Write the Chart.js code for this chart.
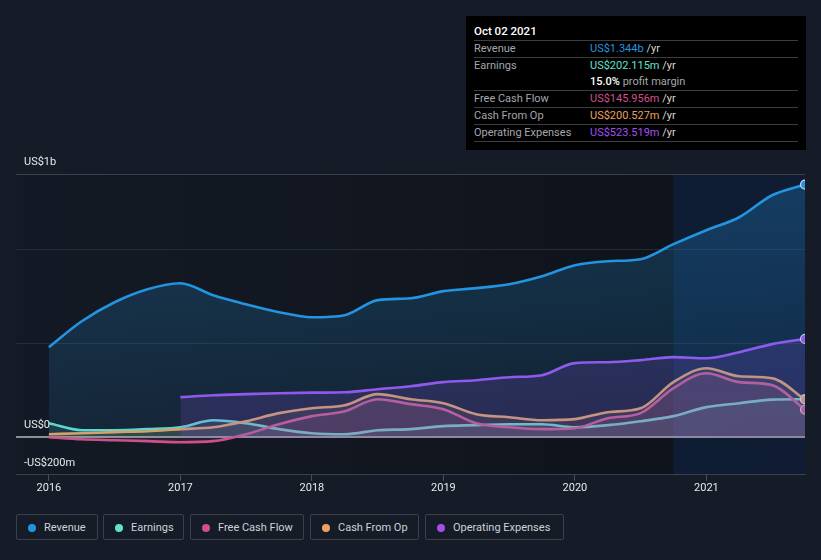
<!DOCTYPE html>
<html>
<head>
<meta charset="utf-8">
<script src="https://cdn.jsdelivr.net/npm/chart.js@4.4.1/dist/chart.umd.min.js"></script>
<style>
  body { margin: 0; background: #151b27; font-family: Roboto, "Noto Sans", sans-serif; }
  #wrap { position: relative; width: 821px; height: 560px; overflow: hidden; }
  #chart { position: absolute; left: 0; top: 0; }
  #tip { position: absolute; left: 466px; top: 16px; width: 340px; height: 134px; background: #000; font-size: 11px; color: #a3a7ae; }
  #tip .title { position: absolute; left: 8px; top: 8px; color: #fff; font-weight: 500; font-size: 11.5px; }
  #tip .row { position: absolute; left: 8px; width: 324px; height: 17px; line-height: 17px; }
  #tip .line { position: absolute; left: 8px; width: 324px; height: 1px; background: #3a3d42; }
  #tip .val { position: absolute; left: 116px; }
  #tip .yr { color: #d8d8d8; }
  .legend { position: absolute; top: 514px; height: 26px; border: 1px solid #3b404b; border-radius: 2px; font-size: 11px; color: #cfd2d6; line-height: 26px; box-sizing: border-box; }
  .legend i { position: absolute; left: 11px; top: 9px; width: 8px; height: 8px; border-radius: 50%; }
  .legend span { position: absolute; left: 27px; }
</style>
</head>
<body>
<div id="wrap">
  <canvas id="chart" width="821" height="500"></canvas>
  <div id="tip"></div>
  <div id="legend"></div>
</div>
<script>
// quarterly points, decimal years
const quarters = [2016, 2016.25, 2016.5, 2016.75, 2017, 2017.25, 2017.5, 2017.75, 2018, 2018.25, 2018.5, 2018.75,
  2019, 2019.25, 2019.5, 2019.75, 2020, 2020.25, 2020.5, 2020.75, 2021, 2021.25, 2021.5, 2021.75];

// values in US$ billions
const revenue = [0.479, 0.617, 0.718, 0.787, 0.819, 0.755, 0.707, 0.665, 0.638, 0.649, 0.729, 0.739,
  0.777, 0.793, 0.814, 0.856, 0.915, 0.936, 0.947, 1.027, 1.101, 1.170, 1.287, 1.344];
const earnings = [0.074, 0.037, 0.037, 0.043, 0.053, 0.090, 0.074, 0.043, 0.021, 0.016, 0.037, 0.043,
  0.059, 0.064, 0.069, 0.069, 0.053, 0.064, 0.085, 0.112, 0.160, 0.181, 0.200, 0.202];
const freeCashFlow = [0.0, -0.011, -0.016, -0.021, -0.027, -0.021, 0.016, 0.069, 0.112, 0.138, 0.202, 0.176,
  0.149, 0.074, 0.053, 0.043, 0.048, 0.101, 0.128, 0.261, 0.340, 0.293, 0.277, 0.146];
const cashFromOp = [0.016, 0.021, 0.027, 0.032, 0.043, 0.053, 0.085, 0.128, 0.154, 0.170, 0.229, 0.202,
  0.181, 0.122, 0.106, 0.090, 0.096, 0.133, 0.154, 0.293, 0.367, 0.324, 0.314, 0.2005];
const opex = [null, null, null, null, 0.213, 0.223, 0.229, 0.234, 0.237, 0.239, 0.255, 0.271,
  0.293, 0.303, 0.319, 0.330, 0.394, 0.399, 0.410, 0.426, 0.420, 0.452, 0.495, 0.523];

const yearTicks = [2016, 2017, 2018, 2019, 2020, 2021];
const gridValues = [-0.2, 0, 0.5, 1, 1.4];
const yTickValues = [1.4, 0, -0.2];
const yTickLabels = ['US$1b', 'US$0', '-US$200m'];
const highlightFrom = 2020.75;

const colors = {
  revenue: '#2394df',
  earnings: '#62e0cb',
  fcf: '#d0508d',
  cfo: '#e9a35e',
  opex: '#a34ff0'
};

const tipRows = [
  ['Revenue', 'US$1.344b', colors.revenue],
  ['Earnings', 'US$202.115m', colors.earnings],
  ['', '15.0%', '#ffffff'],
  ['Free Cash Flow', 'US$145.956m', colors.fcf],
  ['Cash From Op', 'US$200.527m', colors.cfo],
  ['Operating Expenses', 'US$523.519m', colors.opex]
];

const legendItems = [
  ['Revenue', colors.revenue, 16, 82],
  ['Earnings', colors.earnings, 103, 81],
  ['Free Cash Flow', colors.fcf, 190, 114],
  ['Cash From Op', colors.cfo, 310, 109],
  ['Operating Expenses', colors.opex, 425, 139]
];

// tooltip box
const tip = document.getElementById('tip');
let html = '<div class="title">Oct 02 2021</div>';
const lineYs = [24, 41, 74, 91, 108, 125];
lineYs.forEach(y => { html += `<div class="line" style="top:${y}px"></div>`; });
const rowYs = [24, 41, 57, 74, 91, 108];
tipRows.forEach((r, i) => {
  let v;
  if (r[0] === '') v = `<span style="color:#fff;font-weight:500">${r[1]}</span> profit margin`;
  else v = `<span style="color:${r[2]}">${r[1]}</span> <span class="yr">/yr</span>`;
  html += `<div class="row" style="top:${rowYs[i]}px">${r[0]}<span class="val">${v}</span></div>`;
});
tip.innerHTML = html;

// legend
const legend = document.getElementById('legend');
legend.innerHTML = legendItems.map(l =>
  `<div class="legend" style="left:${l[2]}px;width:${l[3]}px"><i style="background:${l[1]}"></i><span>${l[0]}</span></div>`
).join('');

function toPoints(arr) {
  return quarters.map((q, i) => ({ x: q, y: arr[i] }));
}

function hexA(hex, a) {
  const n = parseInt(hex.slice(1), 16);
  return `rgba(${n >> 16},${(n >> 8) & 255},${n & 255},${a})`;
}

const lastIdx = quarters.length - 1;

function series(label, data, color, fillAlpha) {
  return {
    label: label,
    data: toPoints(data),
    borderColor: color,
    borderWidth: 2.6,
    fill: 'origin',
    backgroundColor: hexA(color, fillAlpha),
    pointRadius: c => c.dataIndex === lastIdx ? 4.5 : 0,
    pointBackgroundColor: color,
    pointBorderColor: 'rgba(230,235,245,0.85)',
    pointBorderWidth: 1.2,
    cubicInterpolationMode: 'monotone',
    spanGaps: false
  };
}

const revSet = series('Revenue', revenue, colors.revenue, 0.2);
revSet.backgroundColor = c => {
  const a = c.chart.chartArea;
  if (!a) return hexA(colors.revenue, 0.2);
  const g = c.chart.ctx.createLinearGradient(0, a.top, 0, a.bottom);
  g.addColorStop(0, hexA(colors.revenue, 0.28));
  g.addColorStop(1, hexA(colors.revenue, 0.08));
  return g;
};

const bgPlugin = {
  id: 'bg',
  beforeDraw(chart) {
    const { ctx, chartArea: a, scales } = chart;
    ctx.save();
    const g = ctx.createLinearGradient(a.left, 0, a.right, 0);
    g.addColorStop(0, '#141a25');
    g.addColorStop(1, '#0e1219');
    ctx.fillStyle = g;
    ctx.fillRect(a.left, a.top, a.right - a.left, a.bottom - a.top);
    const hx = scales.x.getPixelForValue(highlightFrom);
    ctx.fillStyle = 'rgba(18,50,100,0.35)';
    ctx.fillRect(hx, a.top, a.right - hx, a.bottom - a.top);
    ctx.restore();
  },
  afterDraw(chart) {
    const { ctx, scales } = chart;
    ctx.save();
    ctx.font = '11px Roboto, sans-serif';
    ctx.fillStyle = '#e6e8eb';
    ctx.textBaseline = 'middle';
    yTickValues.forEach((v, i) => {
      ctx.fillText(yTickLabels[i], 24, scales.y.getPixelForValue(v) - 12);
    });
    ctx.restore();
  }
};

new Chart(document.getElementById('chart'), {
  type: 'line',
  data: {
    datasets: [
      revSet,
      series('Operating Expenses', opex, colors.opex, 0.18),
      series('Cash From Op', cashFromOp, colors.cfo, 0.12),
      series('Free Cash Flow', freeCashFlow, colors.fcf, 0.14),
      series('Earnings', earnings, colors.earnings, 0.12)
    ]
  },
  options: {
    responsive: false,
    animation: false,
    layout: { padding: { top: 174, left: 16, right: 16, bottom: 4 } },
    plugins: { legend: { display: false }, tooltip: { enabled: false } },
    scales: {
      x: {
        type: 'linear',
        min: 2015.75,
        max: 2021.75,
        afterBuildTicks: s => { s.ticks = yearTicks.map(v => ({ value: v })); },
        ticks: {
          color: '#e6e8eb',
          font: { family: 'Roboto', size: 11 },
          padding: 1,
          maxRotation: 0,
          callback: v => String(v)
        },
        grid: { drawOnChartArea: false, drawTicks: true, tickLength: 6, color: '#4a4f58' },
        border: { display: true, color: '#3b404a' }
      },
      y: {
        min: -0.2,
        max: 1.4,
        afterBuildTicks: s => { s.ticks = gridValues.map(v => ({ value: v })); },
        ticks: { display: false },
        grid: {
          drawTicks: false,
          color: c => c.tick.value === 0 ? '#8d9096' : (c.tick.value === 1.4 ? '#3a3f49' : '#262c37'),
          lineWidth: c => c.tick.value === 0 ? 2 : 1
        },
        border: { display: false }
      }
    }
  },
  plugins: [bgPlugin]
});
</script>
</body>
</html>
